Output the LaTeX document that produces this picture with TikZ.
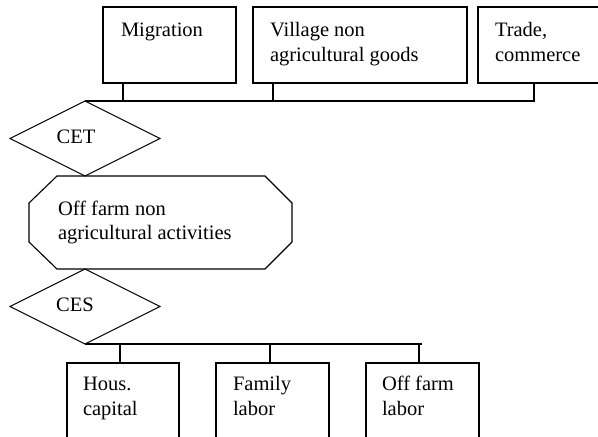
\documentclass[tikz,border=0pt]{standalone}
\usepackage{fontspec}
\setmainfont{Liberation Serif}
\usetikzlibrary{shapes.geometric}
\begin{document}
\begin{tikzpicture}[x=1pt,y=-1pt,
    line width=1.1pt,
    every node/.style={inner sep=0pt, outer sep=0pt},
    box/.style={draw, anchor=north west},
    choice/.style={draw, diamond, minimum width=150pt, minimum height=75pt},
    txt/.style={anchor=base west, align=left, font=\fontsize{20.5}{24.5}\selectfont},
    wire/.style={line width=1.1pt}]
  \useasboundingbox (0,0) rectangle (598,437);
  \clip (0,0) rectangle (598,437);

  % upper row of supply boxes
  \node[box, minimum width=133pt, minimum height=76pt] (mig) at (103,7) {};
  \node[box, minimum width=214pt, minimum height=76pt] (vil) at (253,7) {};
  \node[box, minimum width=140pt, minimum height=76pt] (trd) at (478,7) {};
  % multi-line texts are placed by the baseline of their last line
  \node[txt] (migt) at (121,36) {Migration};
  \node[txt] (vilt) at (270,61) {Village non\\agricultural goods};
  \node[txt] (trdt) at (495,61) {Trade,\\commerce};

  % CET split
  \node[choice] (cet) at (85,138.5) {};
  \node[font=\fontsize{20.5}{24.5}\selectfont] (cett) at (76,137) {CET};

  % octagonal activity block
  \node[minimum width=263pt, minimum height=93pt, anchor=north west] (off) at (29,176) {};
  \draw ([xshift=28pt]off.north west) -- ([xshift=-27pt]off.north east)
        -- ([yshift=-27pt]off.north east) -- ([yshift=27pt]off.south east)
        -- ([xshift=-27pt]off.south east) -- ([xshift=28pt]off.south west)
        -- ([yshift=27pt]off.south west) -- ([yshift=-27pt]off.north west) -- cycle;
  \node[txt] (offt) at (58,239.5) {Off farm non\\agricultural activities};

  % CES aggregation
  \node[choice] (ces) at (85,306.5) {};
  \node[font=\fontsize{20.5}{24.5}\selectfont] (cest) at (75,305) {CES};

  % lower row of factor boxes
  \node[box, minimum width=112pt, minimum height=90pt] (hou) at (67,363) {};
  \node[box, minimum width=113pt, minimum height=90pt] (fam) at (216,363) {};
  \node[box, minimum width=113pt, minimum height=90pt] (ofl) at (366,363) {};
  \node[txt] (hout) at (83,415) {Hous.\\capital};
  \node[txt] (famt) at (233,415) {Family\\labor};
  \node[txt] (oflt) at (382,415) {Off farm\\labor};

  % upper bus
  \draw[wire] ([xshift=20pt]mig.south west) |- (cet.north);
  \draw[wire] ([xshift=20pt]vil.south west) |- (cet.north);
  \draw[wire] ([xshift=56pt]trd.south west) |- (cet.north);

  % lower bus
  \coordinate (busend) at (422,344);
  \draw[wire] (ces.south) -- (busend);
  \draw[wire] ([xshift=53pt]hou.north west) -- ++(0,-19);
  \draw[wire] ([xshift=54pt]fam.north west) -- ++(0,-19);
  \draw[wire] ([xshift=53pt]ofl.north west) -- ++(0,-19);
\end{tikzpicture}
\end{document}
